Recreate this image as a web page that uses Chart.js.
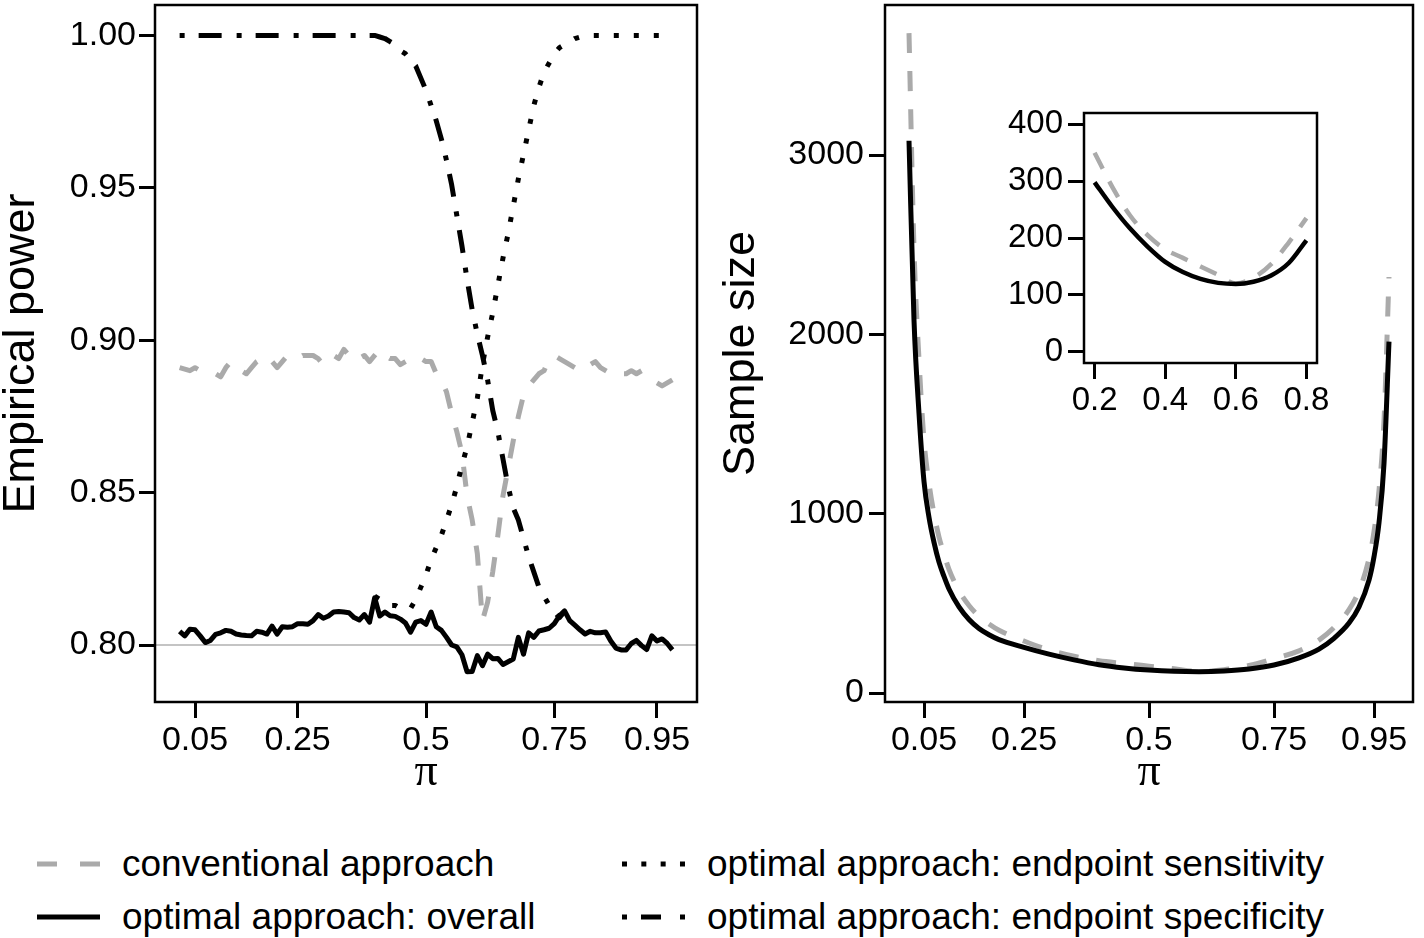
<!DOCTYPE html>
<html><head><meta charset="utf-8">
<script src="https://cdn.jsdelivr.net/npm/chart.js@4.4.1/dist/chart.umd.min.js"></script>
<style>
html,body{margin:0;padding:0;background:#fff;width:1424px;height:938px;overflow:hidden;font-family:"Liberation Sans",Arial,sans-serif}
canvas{position:absolute}
#cLeft{left:0;top:0}
#cRight{left:710px;top:0}
#cInset{left:1000px;top:100px}
.leg{position:absolute;display:flex;align-items:center;height:44px;font-size:37px;line-height:44px;color:#000;white-space:nowrap}
.leg svg{margin-right:22px;display:block}
</style></head>
<body>
<canvas id="cLeft" width="700" height="800"></canvas>
<canvas id="cRight" width="714" height="800"></canvas>
<canvas id="cInset" width="330" height="320"></canvas>

<div class="leg" style="left:37px;top:842px"><svg width="63" height="10"><line x1="0" y1="5" x2="63" y2="5" stroke="#aaaaaa" stroke-width="5" stroke-dasharray="20 23"/></svg><span>conventional approach</span></div>
<div class="leg" style="left:37px;top:895px"><svg width="63" height="10"><line x1="0" y1="5" x2="63" y2="5" stroke="#000" stroke-width="5"/></svg><span>optimal approach: overall</span></div>
<div class="leg" style="left:622px;top:842px"><svg width="63" height="10"><line x1="0" y1="5" x2="63" y2="5" stroke="#000" stroke-width="5" stroke-dasharray="5 14.33"/></svg><span>optimal approach: endpoint sensitivity</span></div>
<div class="leg" style="left:622px;top:895px"><svg width="63" height="10"><line x1="0" y1="5" x2="63" y2="5" stroke="#000" stroke-width="5" stroke-dasharray="5 14 20 19 5 20"/></svg><span>optimal approach: endpoint specificity</span></div>

<script>
// ---------- data: left panel (empirical power) ----------
const PI_POWER = [0.02,0.03,0.04,0.05,0.06,0.07,0.08,0.09,0.10,0.11,0.12,0.13,0.14,0.15,0.16,0.17,0.18,0.19,0.20,
0.21,0.22,0.23,0.24,0.25,0.26,0.27,0.28,0.29,0.30,0.31,0.32,0.33,0.34,0.35,0.36,0.37,0.38,0.39,0.40,
0.41,0.42,0.43,0.44,0.45,0.46,0.47,0.48,0.49,0.50,0.51,0.52,0.53,0.54,0.55,0.56,0.57,0.58,0.59,0.60,
0.61,0.62,0.63,0.64,0.65,0.66,0.67,0.68,0.69,0.70,0.71,0.72,0.73,0.74,0.75,0.76,0.77,0.78,0.79,0.80,
0.81,0.82,0.83,0.84,0.85,0.86,0.87,0.88,0.89,0.90,0.91,0.92,0.93,0.94,0.95,0.96,0.97,0.98];

const POWER_CONVENTIONAL = [0.891,0.8905,0.890,0.891,0.890,0.889,0.8895,0.889,0.888,0.891,0.893,0.891,0.890,0.889,0.891,0.893,0.894,0.892,0.893,
0.891,0.893,0.895,0.895,0.894,0.895,0.895,0.895,0.894,0.892,0.894,0.895,0.894,0.897,0.895,0.896,0.894,0.895,0.893,0.895,
0.897,0.895,0.894,0.894,0.892,0.893,0.894,0.895,0.894,0.893,0.893,0.889,0.887,0.883,0.876,0.870,0.863,0.849,0.841,0.830,
0.808,0.814,0.824,0.836,0.849,0.858,0.867,0.875,0.882,0.885,0.887,0.889,0.890,0.894,0.895,0.894,0.893,0.892,0.891,0.891,
0.893,0.892,0.893,0.891,0.890,0.889,0.890,0.889,0.889,0.890,0.889,0.890,0.889,0.888,0.886,0.885,0.886,0.887];

const POWER_OVERALL = [0.8045,0.8030,0.8052,0.8050,0.8030,0.8008,0.8015,0.8035,0.8040,0.8048,0.8045,0.8036,0.8033,0.8031,0.8030,0.8045,0.8042,0.8036,0.8062,
0.8036,0.8060,0.8058,0.8060,0.8070,0.8070,0.8068,0.8080,0.8100,0.8088,0.8095,0.8108,0.8110,0.8108,0.8106,0.8090,0.8082,0.8100,0.8075,0.8155,
0.8095,0.8108,0.8096,0.8094,0.8085,0.8072,0.8042,0.8075,0.8080,0.8068,0.8108,0.8060,0.8048,0.8025,0.8000,0.7994,0.7968,0.7912,0.7913,0.7965,
0.7932,0.7970,0.7955,0.7956,0.7936,0.7945,0.7954,0.8025,0.7970,0.8040,0.8025,0.8046,0.8050,0.8055,0.8070,0.8096,0.8112,0.8080,0.8065,0.8050,
0.8036,0.8045,0.8040,0.8040,0.8043,0.8013,0.7990,0.7984,0.7984,0.8005,0.8015,0.7998,0.7985,0.8030,0.8013,0.8020,0.8005,0.7984];

const POWER_SENSITIVITY = [null,null,null,null,null,null,null,null,null,null,null,null,null,null,null,null,null,null,null,
null,null,null,null,null,null,null,null,null,null,null,null,null,null,null,null,null,null,null,0.816,
0.815,0.814,0.813,0.813,0.812,0.812,0.812,0.815,0.819,0.823,0.828,0.832,0.836,0.841,0.846,0.852,0.859,0.865,0.873,0.881,
0.892,0.901,0.909,0.918,0.927,0.935,0.944,0.953,0.961,0.969,0.977,0.983,0.988,0.991,0.994,0.996,0.997,0.998,0.999,0.9995,
1.000,1.000,1.000,1.000,1.000,1.000,1.000,1.000,1.000,1.000,1.000,1.000,1.000,1.000,1.000,1.000,1.000,1.000];

const POWER_SPECIFICITY = [1.000,1.000,1.000,1.000,1.000,1.000,1.000,1.000,1.000,1.000,1.000,1.000,1.000,1.000,1.000,1.000,1.000,1.000,1.000,
1.000,1.000,1.000,1.000,1.000,1.000,1.000,1.000,1.000,1.000,1.000,1.000,1.000,1.000,1.000,1.000,1.000,1.000,1.000,1.000,
0.9995,0.999,0.998,0.997,0.995,0.994,0.992,0.990,0.986,0.982,0.977,0.972,0.966,0.959,0.951,0.941,0.931,0.920,0.910,0.902,
0.895,0.887,0.877,0.870,0.861,0.852,0.845,0.841,0.835,0.829,0.824,0.819,0.816,0.813,0.811,0.809,0.811,null,null,null,
null,null,null,null,null,null,null,null,null,null,null,null,null,null,null,null,null,null];

const POWER_REFERENCE = 0.80;

// ---------- data: right panel (sample size) ----------
const PI_SIZE = [0.02,0.03,0.04,0.05,0.06,0.07,0.08,0.09,0.10,0.12,0.14,0.16,0.18,0.20,0.25,0.30,0.35,0.40,0.45,0.50,
0.55,0.60,0.65,0.70,0.75,0.80,0.84,0.87,0.90,0.92,0.94,0.95,0.96,0.97,0.98];
const SIZE_OPTIMAL = [3080,2080,1560,1180,980,840,730,650,580,480,410,360,325,298,255,217,185,158,140,128,
121,119,123,134,156,196,245,305,390,480,630,760,950,1280,1960];
const SIZE_CONVENTIONAL = [3680,2480,1860,1410,1170,1000,870,775,690,570,488,428,385,350,290,240,205,180,165,150,
135,120,130,154,192,235,295,365,465,570,750,900,1130,1520,2320];

// ---------- ticks ----------
const X_TICKS = [0.05,0.25,0.5,0.75,0.95];
const X_TICK_LABELS = ['0.05','0.25','0.5','0.75','0.95'];
const POWER_TICKS = [0.80,0.85,0.90,0.95,1.00];
const POWER_TICK_LABELS = ['0.80','0.85','0.90','0.95','1.00'];
const SIZE_TICKS = [0,1000,2000,3000];
const SIZE_TICK_LABELS = ['0','1000','2000','3000'];
const INSET_X_TICKS = [0.2,0.4,0.6,0.8];
const INSET_X_TICK_LABELS = ['0.2','0.4','0.6','0.8'];
const INSET_Y_TICKS = [0,100,200,300,400];
const INSET_Y_TICK_LABELS = ['0','100','200','300','400'];

const FONT = '"Liberation Sans", Arial, sans-serif';
const GRAY = '#aaaaaa';

function pts(xs, ys) { return xs.map((x, i) => ({x: x, y: ys[i]})); }

function axis(o) {
  return {
    type: 'linear', position: o.position, min: o.min, max: o.max,
    afterBuildTicks: s => { s.ticks = o.ticks.map(v => ({value: v})); },
    afterFit: s => {
      if (o.position === 'left') s.width = o.size; else s.height = o.size;
      s.paddingTop = 0; s.paddingBottom = 0; s.paddingLeft = 0; s.paddingRight = 0;
    },
    ticks: { callback: (v, i) => o.labels[i], autoSkip: false, maxRotation: 0, minRotation: 0,
             font: {family: FONT, size: o.fontSize}, color: '#000', padding: o.pad },
    grid: { display: true, drawOnChartArea: false, drawTicks: true, tickLength: o.tl, tickWidth: 3,
            tickColor: '#000', color: '#000' },
    border: { display: false },
    title: o.title ? { display: true, text: o.title, color: '#000',
                       font: {family: o.titleFamily || FONT, size: o.titleSize, lineHeight: o.titleLH},
                       padding: o.titlePad } : { display: false }
  };
}

const boxPlugin = {
  id: 'box',
  afterDatasetsDraw(chart) {
    const {ctx, chartArea: a} = chart;
    ctx.save(); ctx.strokeStyle = '#000'; ctx.lineWidth = 2.5;
    ctx.strokeRect(a.left, a.top, a.right - a.left, a.bottom - a.top);
    ctx.restore();
  }
};
const refLinePlugin = {
  id: 'refLine',
  beforeDatasetsDraw(chart) {
    const {ctx, chartArea: a, scales} = chart;
    const y = scales.y.getPixelForValue(POWER_REFERENCE);
    ctx.save(); ctx.strokeStyle = '#c4c4c4'; ctx.lineWidth = 2;
    ctx.beginPath(); ctx.moveTo(a.left, y); ctx.lineTo(a.right, y); ctx.stroke();
    ctx.restore();
  }
};

const base = { responsive: false, animation: false, devicePixelRatio: 1,
  plugins: { legend: {display: false}, tooltip: {enabled: false} },
  elements: { point: {radius: 0}, line: {borderCapStyle: 'butt', borderJoinStyle: 'round'} } };

// ---------- left chart ----------
new Chart(document.getElementById('cLeft'), {
  type: 'line',
  data: { datasets: [
    { label: 'optimal approach: overall', data: pts(PI_POWER, POWER_OVERALL), borderColor: '#000', borderWidth: 5, tension: 0 },
    { label: 'optimal approach: endpoint specificity', data: pts(PI_POWER, POWER_SPECIFICITY), borderColor: '#000', borderWidth: 5, borderDash: [5,14,23,15], tension: 0 },
    { label: 'optimal approach: endpoint sensitivity', data: pts(PI_POWER, POWER_SENSITIVITY), borderColor: '#000', borderWidth: 5, borderDash: [5,15], tension: 0 },
    { label: 'conventional approach', data: pts(PI_POWER, POWER_CONVENTIONAL), borderColor: GRAY, borderWidth: 5, borderDash: [20,20], tension: 0 }
  ]},
  options: Object.assign({}, base, {
    layout: { padding: {top: 5, right: 3, left: 0, bottom: 0} },
    scales: {
      x: axis({position: 'bottom', min: -0.028, max: 1.028, ticks: X_TICKS, labels: X_TICK_LABELS, size: 98, fontSize: 34, pad: 2, tl: 16,
               title: 'π', titleFamily: '"Liberation Serif", serif', titleSize: 46, titleLH: 1, titlePad: {top: 0, bottom: 4}}),
      y: axis({position: 'left', min: 0.7813, max: 1.0100, ticks: POWER_TICKS, labels: POWER_TICK_LABELS, size: 155, fontSize: 34, pad: 3, tl: 16,
               title: 'Empirical power', titleSize: 45, titleLH: 0.77, titlePad: {top: 4, bottom: 0}})
    }
  }),
  plugins: [refLinePlugin, boxPlugin]
});

// ---------- right chart ----------
new Chart(document.getElementById('cRight'), {
  type: 'line',
  data: { datasets: [
    { label: 'optimal approach: overall', data: pts(PI_SIZE, SIZE_OPTIMAL), borderColor: '#000', borderWidth: 5, cubicInterpolationMode: 'monotone' },
    { label: 'conventional approach', data: pts(PI_SIZE, SIZE_CONVENTIONAL), borderColor: GRAY, borderWidth: 5, borderDash: [20,18], cubicInterpolationMode: 'monotone' }
  ]},
  options: Object.assign({}, base, {
    layout: { padding: {top: 5, right: 11, left: 0, bottom: 0} },
    scales: {
      x: axis({position: 'bottom', min: -0.028, max: 1.028, ticks: X_TICKS, labels: X_TICK_LABELS, size: 98, fontSize: 34, pad: 2, tl: 16,
               title: 'π', titleFamily: '"Liberation Serif", serif', titleSize: 46, titleLH: 1, titlePad: {top: 0, bottom: 4}}),
      y: axis({position: 'left', min: -50, max: 3837, ticks: SIZE_TICKS, labels: SIZE_TICK_LABELS, size: 175, fontSize: 34, pad: 5, tl: 16,
               title: 'Sample size', titleSize: 45, titleLH: 0.77, titlePad: {top: 14, bottom: 0}})
    }
  }),
  plugins: [boxPlugin]
});

// ---------- inset ----------
const insetIdx = PI_SIZE.map((p, i) => i).filter(i => PI_SIZE[i] >= 0.2 && PI_SIZE[i] <= 0.8);
const INSET_PI = insetIdx.map(i => PI_SIZE[i]);
new Chart(document.getElementById('cInset'), {
  type: 'line',
  data: { datasets: [
    { label: 'optimal approach: overall', data: pts(INSET_PI, insetIdx.map(i => SIZE_OPTIMAL[i])), borderColor: '#000', borderWidth: 4.5, cubicInterpolationMode: 'monotone' },
    { label: 'conventional approach', data: pts(INSET_PI, insetIdx.map(i => SIZE_CONVENTIONAL[i])), borderColor: GRAY, borderWidth: 4.5, borderDash: [18,14], cubicInterpolationMode: 'monotone' }
  ]},
  options: Object.assign({}, base, {
    layout: { padding: {top: 13, right: 13, left: 0, bottom: 0} },
    scales: {
      x: axis({position: 'bottom', min: 0.17, max: 0.83, ticks: INSET_X_TICKS, labels: INSET_X_TICK_LABELS, size: 57, fontSize: 33, pad: 2, tl: 16}),
      y: axis({position: 'left', min: -20, max: 420, ticks: INSET_Y_TICKS, labels: INSET_Y_TICK_LABELS, size: 84, fontSize: 33, pad: 5, tl: 16})
    }
  }),
  plugins: [boxPlugin]
});
</script>
</body></html>
